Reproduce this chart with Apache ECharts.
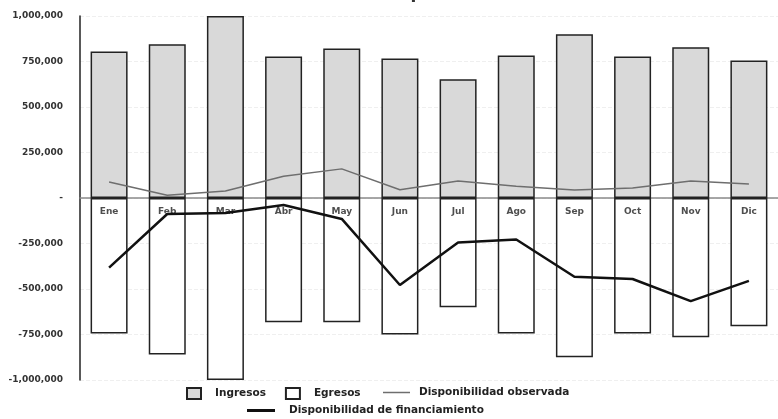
<!DOCTYPE html>
<html>
<head>
<meta charset="utf-8">
<script src="https://cdn.jsdelivr.net/npm/echarts@6/dist/echarts.min.js"></script>
<style>html,body{margin:0;padding:0;background:#fff}#c{width:778px;height:419px}</style>
</head>
<body>
<div id="c"></div>
<script>
const categories = ['Ene','Feb','Mar','Abr','May','Jun','Jul','Ago','Sep','Oct','Nov','Dic'];
const ingresos = [805000, 845000, 1000000, 778000, 822000, 767000, 652000, 783000, 900000, 778000, 828000, 755000];
const egresos = [-745000, -860000, -1000000, -683000, -683000, -750000, -600000, -745000, -875000, -745000, -765000, -705000];
const observada = [88000, 15000, 38000, 120000, 160000, 45000, 93000, 65000, 44000, 55000, 93000, 77000];
const financiamiento = [-383000, -88000, -83000, -38000, -115000, -478000, -245000, -228000, -433000, -445000, -567000, -455000];
const yTicks = { min: -1000000, max: 1000000, interval: 250000 };
const titleText = '(Miles de pesos)';

const font = 'DejaVu Sans';
const legendText = (pad) => ({ fontFamily: font, fontSize: 10.5, fontWeight: 'bold', color: '#222', padding: [0, 0, 0, pad] });
const chart = echarts.init(document.getElementById('c'));
chart.setOption({
  animation: false,
  backgroundColor: '#fff',
  textStyle: { fontFamily: font },
  title: {
    text: titleText, left: 312, top: -20,
    textStyle: { fontFamily: font, fontSize: 17, fontWeight: 'bold', color: '#333' }
  },
  grid: { left: 80, top: 16, width: 708, height: 364, containLabel: false },
  legend: [
    {
      data: [{ name: 'Ingresos', icon: 'rect' }, { name: 'Egresos', icon: 'rect' }],
      left: 186, top: 387, padding: 0, itemGap: 19, itemWidth: 14, itemHeight: 11,
      textStyle: legendText(9)
    },
    {
      data: [{ name: 'Disponibilidad observada', icon: 'rect' }],
      left: 383, top: 387, padding: 0, itemWidth: 27, itemHeight: 1.5,
      textStyle: legendText(4)
    },
    {
      data: [{ name: 'Disponibilidad de financiamiento', icon: 'rect' }],
      left: 247, top: 405, padding: 0, itemWidth: 28, itemHeight: 3,
      textStyle: legendText(9)
    }
  ],
  xAxis: {
    type: 'category', data: categories,
    axisLine: { onZero: true, lineStyle: { color: '#8a8a8a', width: 1.5 } },
    axisTick: { show: false },
    axisLabel: { show: false }
  },
  yAxis: {
    type: 'value', min: yTicks.min, max: yTicks.max, interval: yTicks.interval,
    axisLine: { show: true, lineStyle: { color: '#222', width: 1.5 } },
    axisTick: { show: false },
    splitLine: { show: true, lineStyle: { color: '#efefef', type: 'dashed' } },
    axisLabel: {
      margin: 17, fontFamily: font, fontSize: 9, fontWeight: 'bold', color: '#333',
      formatter: v => v === 0 ? '-' : v.toLocaleString('en-US')
    }
  },
  series: [
    {
      name: 'Ingresos', type: 'bar', stack: 'b', data: ingresos, barWidth: 37,
      itemStyle: { color: '#d9d9d9', borderColor: '#222', borderWidth: 1.5 }
    },
    {
      name: 'Egresos', type: 'bar', stack: 'b', data: egresos, barWidth: 37,
      itemStyle: { color: '#ffffff', borderColor: '#222', borderWidth: 1.5 }
    },
    {
      name: 'Disponibilidad observada', type: 'line', data: observada,
      symbol: 'none', z: 5,
      lineStyle: { color: '#6e6e6e', width: 1.5 }, itemStyle: { color: '#6e6e6e' }
    },
    {
      name: 'Disponibilidad de financiamiento', type: 'line', data: financiamiento,
      symbol: 'none', z: 6,
      lineStyle: { color: '#111', width: 2.5 }, itemStyle: { color: '#111' }
    },
    {
      name: 'labels', type: 'scatter', data: categories.map(() => 0),
      symbolSize: 0, silent: true, z: 4,
      label: {
        show: true, position: 'bottom', distance: 9,
        formatter: p => categories[p.dataIndex],
        fontFamily: font, fontSize: 9, fontWeight: 'bold', color: '#222'
      }
    }
  ]
});
</script>
</body>
</html>
